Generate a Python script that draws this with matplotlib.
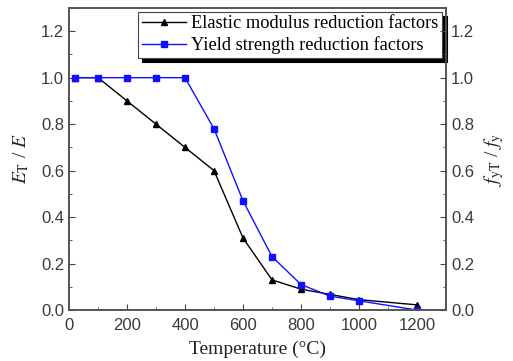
import numpy as np
import matplotlib
matplotlib.use("Agg")
import matplotlib.pyplot as plt
from matplotlib.ticker import MultipleLocator

# reduction factors
temp_e = [20, 100, 200, 300, 400, 500, 600, 700, 800, 900, 1000, 1200]
elastic = [1.0, 1.0, 0.9, 0.8, 0.7, 0.6, 0.31, 0.13, 0.09, 0.0675, 0.045, 0.0225]
temp_y = [20, 100, 200, 300, 400, 500, 600, 700, 800, 900, 1000, 1200]
yield_ = [1.0, 1.0, 1.0, 1.0, 1.0, 0.78, 0.47, 0.23, 0.11, 0.06, 0.04, 0.0]
x_ticks = [0, 200, 400, 600, 800, 1000, 1200]

serif = "Liberation Serif"
sans = "Liberation Sans"
plt.rcParams["mathtext.fontset"] = "stix"
tick_size = 12
tick_col = "#3a3a3a"

fig = plt.figure(figsize=(5.13, 3.61), dpi=100)
ax = fig.add_axes([0.1345, 0.141, 0.735, 0.837])

ax.plot(temp_e, elastic, color="black", marker="^", markersize=5, lw=1,
        label="Elastic modulus reduction factors")
ax.plot(temp_y, yield_, color="#1010ff", marker="s", markersize=5, lw=1,
        label="Yield strength reduction factors")

ax.set_xlim(0, 1300)
ax.set_ylim(0, 1.3)
ax.set_xticks(x_ticks)
ax.set_xticklabels([str(t) for t in x_ticks])
ax.xaxis.set_minor_locator(MultipleLocator(100))
ax.yaxis.set_major_locator(MultipleLocator(0.2))
ax.yaxis.set_minor_locator(MultipleLocator(0.1))

ax2 = ax.twinx()
ax2.set_ylim(0, 1.3)
ax2.yaxis.set_major_locator(MultipleLocator(0.2))
ax2.yaxis.set_minor_locator(MultipleLocator(0.1))

ax.tick_params(which="both", direction="in", top=False, right=False,
               color="#444444")
ax.tick_params(axis="x", which="major", pad=6)
ax2.tick_params(which="both", direction="in", color="#444444")
for a in (ax, ax2):
    a.tick_params(which="major", length=4)
    a.tick_params(which="minor", length=2.5)
    for lab in a.get_xticklabels() + a.get_yticklabels():
        lab.set_fontfamily(sans)
        lab.set_fontsize(tick_size)
        lab.set_color(tick_col)
    for s in a.spines.values():
        s.set_color("#555555")
        s.set_linewidth(1.2)

ax.set_xlabel("Temperature (\u00b0C)", fontfamily=serif, fontsize=14,
              labelpad=5, color="#222222")
ax.set_ylabel(r"$E_{\mathrm{T}}$ / $E$", fontfamily=serif, fontsize=14,
              labelpad=7, color="#222222")
ax2.set_ylabel(r"$f_{\mathrm{yT}}$ / $f_{\mathrm{y}}$", fontfamily=serif,
               fontsize=14, labelpad=6, color="#222222")

leg = ax.legend(loc="upper right", prop={"family": serif, "size": 13.2},
                frameon=True, fancybox=False, borderaxespad=0.2,
                handlelength=2.4, handletextpad=0.3, borderpad=0.2,
                labelspacing=0.22, numpoints=1,
                shadow={"color": "black", "alpha": 1.0, "ox": 3, "oy": -3})
leg.get_frame().set_edgecolor("#444444")
leg.get_frame().set_linewidth(0.8)

fig.savefig("out.png", dpi=100)
